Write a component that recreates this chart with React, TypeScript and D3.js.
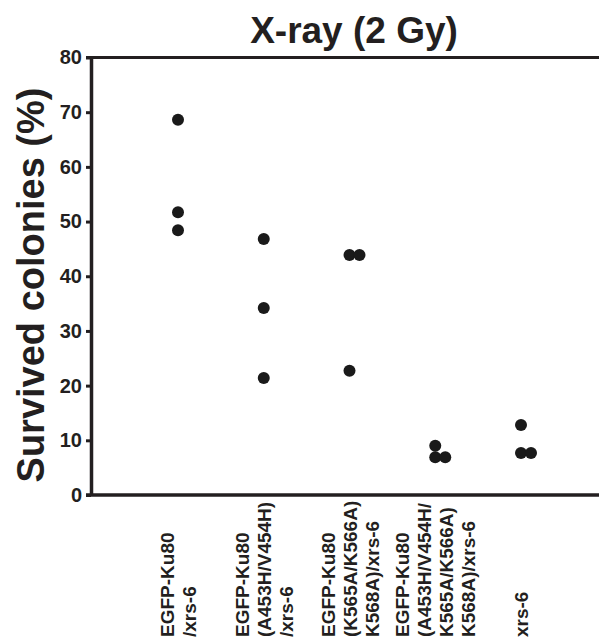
import React, { useEffect, useRef } from 'react';
import * as d3 from 'd3';

const groups = ['wt', 'ahvh', 'kkk', 'ahvhkkk', 'xrs6'];
const groupLabels = [
  ['EGFP-Ku80', '/xrs-6'],
  ['EGFP-Ku80', '(A453H/V454H)', '/xrs-6'],
  ['EGFP-Ku80', '(K565A/K566A)', 'K568A)/xrs-6'],
  ['EGFP-Ku80', '(A453H/V454H/', 'K565A/K566A)', 'K568A)/xrs-6'],
  ['xrs-6'],
];
const survival = [
  [68.6, 51.7, 48.4],
  [46.8, 34.2, 21.4],
  [43.9, 43.9, 22.7],
  [9.0, 6.9, 6.9],
  [12.8, 7.7, 7.7],
];
const yTicks = [0, 10, 20, 30, 40, 50, 60, 70, 80];

const W = 599;
const H = 638;
const ink = '#231f20';
const font = '"Liberation Sans", Arial, Helvetica, sans-serif';

export default function App() {
  const axisRef = useRef<SVGGElement>(null);

  const margin = { top: 57.5, left: 91, bottom: 143 };
  const y = d3.scaleLinear().domain([0, 80]).range([H - margin.bottom, margin.top]);
  const x = d3.scalePoint<string>().domain(groups).range([178, 521]);
  const r = 6;

  // dots with the same value sit side by side
  const dots = survival.flatMap((vals, gi) =>
    vals.map((v, i) => {
      const dup = vals.slice(0, i).filter((u) => Math.abs(y(u) - y(v)) < 4).length;
      return { cx: (x(groups[gi]) as number) + dup * 10, cy: y(v) };
    })
  );

  useEffect(() => {
    const g = d3.select(axisRef.current);
    g.call(
      d3.axisLeft(y).tickValues(yTicks).tickSize(5).tickPadding(4).tickSizeOuter(0)
    );
    g.select('.domain').attr('stroke', ink).attr('stroke-width', 3.5);
    g.selectAll('.tick line').attr('stroke', ink).attr('stroke-width', 3);
    g.selectAll('.tick text')
      .attr('fill', ink)
      .style('font-family', font)
      .style('font-size', '20px')
      .style('font-weight', 'bold');
  }, []);

  return (
    <svg
      width={W}
      height={H}
      style={{ position: 'absolute', left: 0, top: 0, background: '#fff' }}
    >
      <text
        x={354}
        y={43}
        textAnchor="middle"
        fill={ink}
        style={{ fontFamily: font, fontSize: 37, fontWeight: 'bold' }}
      >
        X-ray (2 Gy)
      </text>
      <text
        transform={`translate(44, 285) rotate(-90)`}
        textAnchor="middle"
        fill={ink}
        style={{ fontFamily: font, fontSize: 38, fontWeight: 'bold' }}
      >
        Survived colonies (%)
      </text>

      <line x1={86} x2={W} y1={y(80)} y2={y(80)} stroke={ink} strokeWidth={3} />
      <line x1={86} x2={W} y1={y(0)} y2={y(0)} stroke={ink} strokeWidth={3.5} />
      <g ref={axisRef} transform={`translate(${margin.left},0)`} />

      <g fill="#1a1a1a">
        {dots.map((d, i) => (
          <circle key={i} cx={d.cx} cy={d.cy} r={r} />
        ))}
      </g>

      {groupLabels.map((lines, gi) => (
        <g
          key={gi}
          transform={`translate(${x(groups[gi])}, 637) rotate(-90)`}
          fill={ink}
          style={{ fontFamily: font, fontSize: 19, fontWeight: 'bold' }}
        >
          {lines.map((l, i) => (
            <text key={i} x={0} y={(i - (lines.length - 1) / 2) * 22 + 7}>
              {l}
            </text>
          ))}
        </g>
      ))}
    </svg>
  );
}
